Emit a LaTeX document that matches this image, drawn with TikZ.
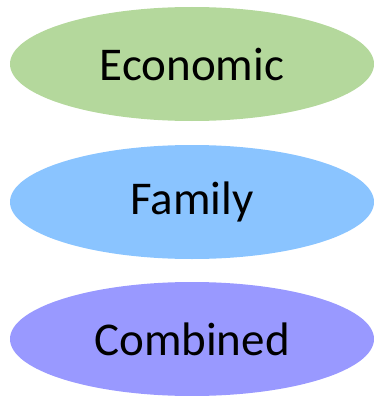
\documentclass[tikz,border=0pt]{standalone}
\usepackage{fontspec}
\setmainfont{Carlito}
\usetikzlibrary{shapes.geometric}
\definecolor{ecogreen}{RGB}{180,216,156}
\definecolor{famblue}{RGB}{138,196,255}
\definecolor{combviolet}{RGB}{153,153,255}
\tikzset{
  kind/.style={ellipse, minimum width=364pt, minimum height=114pt, inner sep=0pt,
    font=\fontsize{47}{52}\selectfont}
}
\begin{document}
\begin{tikzpicture}[x=1pt,y=1pt]
    \useasboundingbox (0,0) rectangle (374,-396);
    % tři kategorie pod sebou
    \node[kind, fill=ecogreen] (econ) at (192,-64) {Economic};
    \node[kind, fill=famblue] (fam) at (192,-202) {Family};
    \node[kind, fill=combviolet] (comb) at (192,-339) {Combined};
\end{tikzpicture}
\end{document}
